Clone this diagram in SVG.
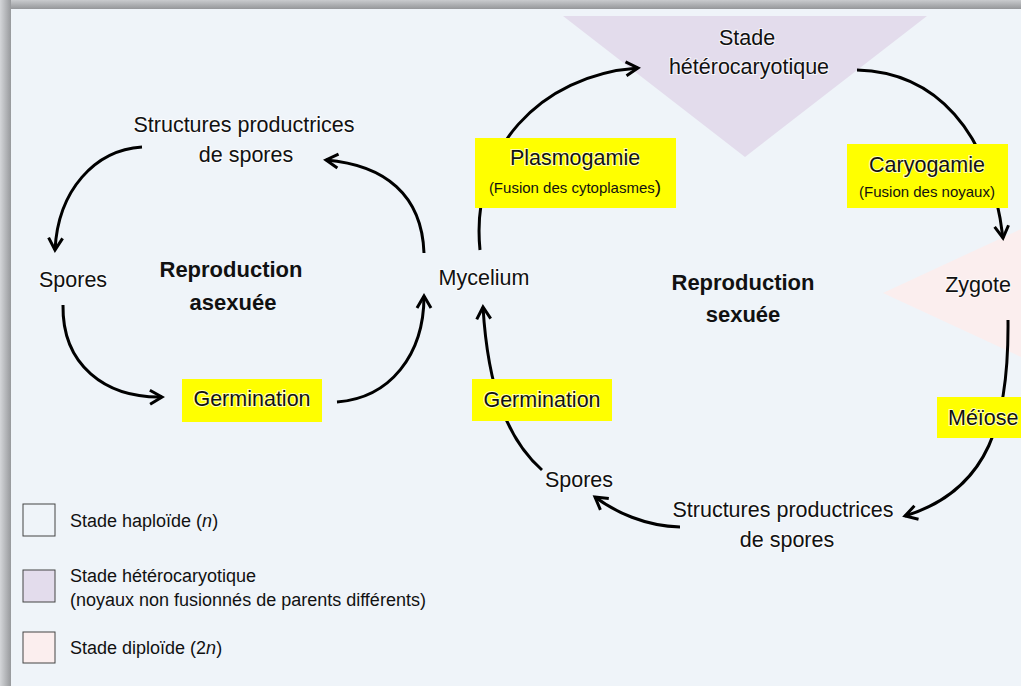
<svg xmlns="http://www.w3.org/2000/svg" width="1021" height="686" viewBox="0 0 1021 686">
  <defs>
    <linearGradient id="shTop" x1="0" y1="0" x2="0" y2="1">
      <stop offset="0" stop-color="#c9cbce"/>
      <stop offset="1" stop-color="#8f9194"/>
    </linearGradient>
    <linearGradient id="shLeft" x1="0" y1="0" x2="1" y2="0">
      <stop offset="0" stop-color="#d4d6d9"/>
      <stop offset="1" stop-color="#97999c"/>
    </linearGradient>
    <marker id="ah" markerUnits="userSpaceOnUse" markerWidth="24" markerHeight="24" viewBox="-16 -12 24 24" refX="0" refY="0" orient="auto">
      <path d="M-12,-7 L0,0 L-12,7" fill="none" stroke="#000" stroke-width="3"/>
    </marker>
  </defs>
  <style>
    text { font-family: "Liberation Sans", Arial, sans-serif; fill: #111; }
    .lbl { font-size: 21.5px; paint-order: stroke; stroke: #ffffff; stroke-width: 2px; stroke-opacity: 0.7; }
    .bold { font-size: 22px; font-weight: bold; }
    .sm { font-size: 15px; }
    .leg { font-size: 18px; }
    .box { fill: #ffff00; }
    .lbox { stroke: #444; stroke-width: 1; }
    .conn path { fill: none; stroke: #000; stroke-width: 3; marker-end: url(#ah); }
  </style>

  <!-- frame / background -->
  <rect x="0" y="0" width="1021" height="686" fill="#e4e6e9"/>
  <rect x="0" y="0" width="1021" height="10" fill="url(#shTop)"/>
  <rect x="0" y="0" width="11" height="686" fill="url(#shLeft)"/>
  <rect x="11" y="9" width="1010" height="677" fill="#eff4f9"/>

  <!-- stage shapes -->
  <polygon id="heterocaryotic-shape" points="563,16 927,16 745,157" fill="#e3dcec"/>
  <polygon id="diploid-shape" points="883,293 1021,229 1021,357" fill="#fbeeee"/>

  <!-- connectors -->
  <g id="connectors" class="conn">
    <path d="M142,147 C95,150 58,190 55,250"/>
    <path d="M63,305 C62,365 105,398 162,397"/>
    <path d="M337,402 C390,398 424,355 424,296"/>
    <path d="M424,253 C422,195 385,165 326,160"/>
    <path d="M480,250 C470,150 540,75 638,68"/>
    <path d="M857,70 C935,72 990,130 1003,238"/>
    <path d="M1008,320 C1009,420 990,490 905,516"/>
    <path d="M680,527 C645,526 615,512 595,497"/>
    <path d="M542,470 C508,440 488,390 483,307"/>
  </g>

  <!-- asexual cycle -->
  <g id="structures-asexual">
    <text class="lbl" x="244" y="132" text-anchor="middle">Structures productrices</text>
    <text class="lbl" x="246" y="162" text-anchor="middle">de spores</text>
  </g>
  <g id="spores-asexual">
    <text class="lbl" x="39" y="287">Spores</text>
  </g>
  <g id="reproduction-asexuee">
    <text class="bold" x="231" y="277" text-anchor="middle">Reproduction</text>
    <text class="bold" x="233" y="310" text-anchor="middle">asexuée</text>
  </g>
  <g id="germination-asexual">
    <rect class="box" x="182" y="379" width="140" height="43"/>
    <text class="lbl" x="252" y="406" text-anchor="middle" stroke="none">Germination</text>
  </g>
  <g id="mycelium">
    <text class="lbl" x="484" y="285" text-anchor="middle">Mycelium</text>
  </g>

  <!-- sexual cycle -->
  <g id="plasmogamie">
    <rect class="box" x="475" y="138" width="201" height="70"/>
    <text class="lbl" x="575" y="165" text-anchor="middle" stroke="none">Plasmogamie</text>
    <text class="sm" x="575" y="193" text-anchor="middle">(Fusion des cytoplasmes<tspan font-size="19">)</tspan></text>
  </g>
  <g id="stade-heterocaryotique">
    <text class="lbl" x="747" y="45" text-anchor="middle" stroke="none">Stade</text>
    <text class="lbl" x="749" y="74" text-anchor="middle" stroke="none">hétérocaryotique</text>
  </g>
  <g id="caryogamie">
    <rect class="box" x="847" y="144" width="161" height="64"/>
    <text class="lbl" x="927" y="172" text-anchor="middle" stroke="none">Caryogamie</text>
    <text class="sm" x="927" y="197" text-anchor="middle">(Fusion des noyaux)</text>
  </g>
  <g id="zygote">
    <text class="lbl" x="978" y="292" text-anchor="middle" stroke="none">Zygote</text>
  </g>
  <g id="reproduction-sexuee">
    <text class="bold" x="743" y="290" text-anchor="middle">Reproduction</text>
    <text class="bold" x="743" y="322" text-anchor="middle">sexuée</text>
  </g>
  <g id="meiose">
    <rect class="box" x="937" y="397" width="84" height="41"/>
    <text class="lbl" x="948" y="425" stroke="none">Méïose</text>
  </g>
  <g id="structures-sexual">
    <text class="lbl" x="783" y="517" text-anchor="middle">Structures productrices</text>
    <text class="lbl" x="787" y="547" text-anchor="middle">de spores</text>
  </g>
  <g id="spores-sexual">
    <text class="lbl" x="579" y="487" text-anchor="middle">Spores</text>
  </g>
  <g id="germination-sexual">
    <rect class="box" x="472" y="379" width="140" height="42"/>
    <text class="lbl" x="542" y="407" text-anchor="middle" stroke="none">Germination</text>
  </g>

  <!-- legend -->
  <g id="legend-haploid">
    <rect class="lbox" x="23" y="504" width="32" height="32" fill="#eff4f9"/>
    <text class="leg" x="70" y="527">Stade haploïde (<tspan font-style="italic">n</tspan>)</text>
  </g>
  <g id="legend-heterocaryotic">
    <rect class="lbox" x="23" y="570" width="32" height="32" fill="#e3dcec"/>
    <text class="leg" x="70" y="582">Stade hétérocaryotique</text>
    <text class="leg" x="70" y="606">(noyaux non fusionnés de parents différents)</text>
  </g>
  <g id="legend-diploid">
    <rect class="lbox" x="23" y="632" width="32" height="31" fill="#fbeeee"/>
    <text class="leg" x="70" y="654">Stade diploïde (2<tspan font-style="italic">n</tspan>)</text>
  </g>
</svg>
